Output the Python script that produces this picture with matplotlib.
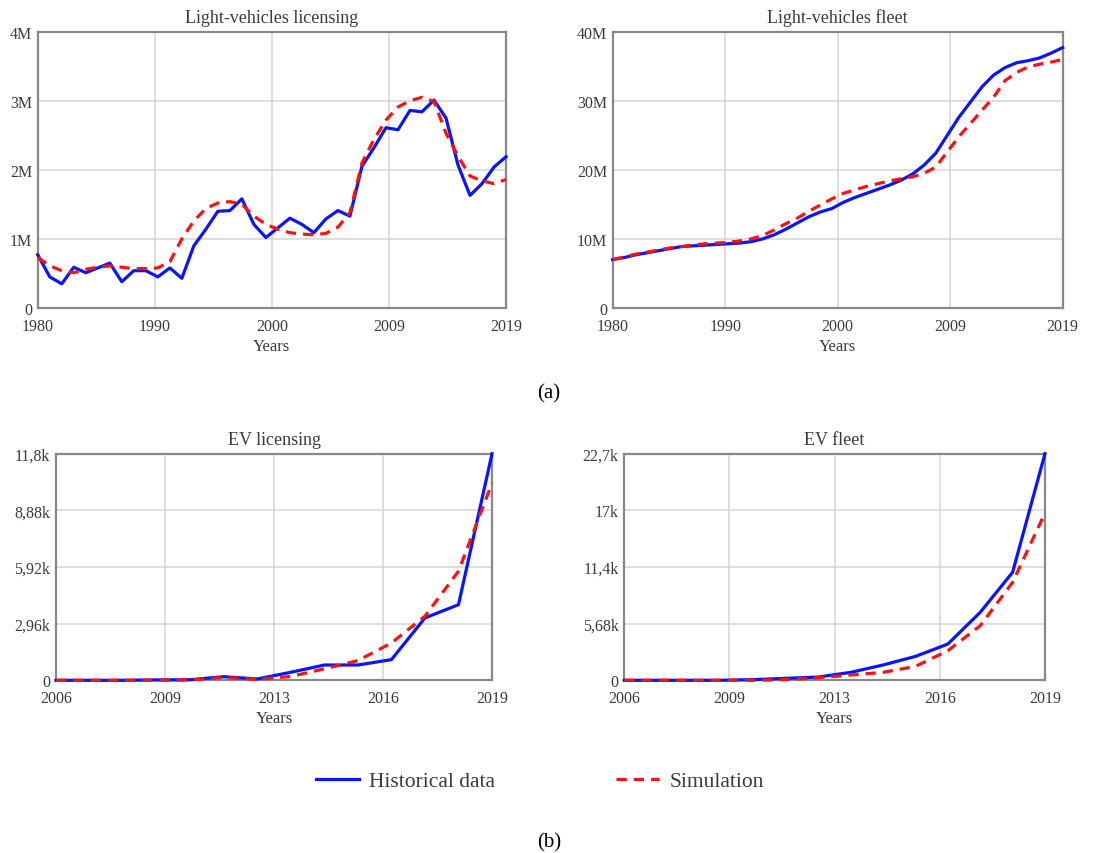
"""Light-vehicle and EV licensing / fleet: historical data vs simulation."""

import matplotlib
matplotlib.use("Agg")
import matplotlib.pyplot as plt
from matplotlib.lines import Line2D
import numpy as np

plt.rcParams["font.family"] = ["Liberation Serif", "DejaVu Serif"]

# --- data -----------------------------------------------------------------
years_lv = np.arange(1980, 2020)
years_ev = np.arange(2006, 2020)

# light-vehicle licensing, millions
lv_lic_hist = [0.77, 0.45, 0.35, 0.59, 0.51, 0.58, 0.65, 0.38, 0.54, 0.54,
               0.45, 0.58, 0.43, 0.90, 1.14, 1.40, 1.41, 1.58, 1.21, 1.02,
               1.16, 1.30, 1.21, 1.09, 1.29, 1.41, 1.33, 2.05, 2.32, 2.61,
               2.58, 2.86, 2.84, 3.01, 2.75, 2.07, 1.63, 1.80, 2.04, 2.19]
lv_lic_sim = [0.73, 0.61, 0.54, 0.51, 0.56, 0.59, 0.61, 0.59, 0.57, 0.57,
              0.58, 0.67, 1.00, 1.26, 1.44, 1.52, 1.54, 1.50, 1.33, 1.21,
              1.14, 1.09, 1.07, 1.06, 1.08, 1.17, 1.38, 2.10, 2.44, 2.72,
              2.91, 3.00, 3.05, 2.99, 2.53, 2.20, 1.91, 1.84, 1.80, 1.86]

# light-vehicle fleet, millions
lv_fleet_hist = [7.0, 7.3, 7.7, 8.0, 8.3, 8.6, 8.9, 9.0, 9.1, 9.2,
                 9.3, 9.4, 9.6, 10.0, 10.6, 11.4, 12.3, 13.2, 13.9, 14.4,
                 15.3, 16.0, 16.6, 17.2, 17.8, 18.5, 19.4, 20.7, 22.4, 25.0,
                 27.6, 29.8, 32.0, 33.7, 34.8, 35.5, 35.8, 36.2, 36.9, 37.7]
lv_fleet_sim = [7.0, 7.4, 7.8, 8.1, 8.4, 8.7, 8.9, 9.1, 9.3, 9.4,
                9.5, 9.7, 10.0, 10.5, 11.3, 12.2, 13.0, 14.0, 14.9, 15.8,
                16.6, 17.1, 17.6, 18.0, 18.4, 18.7, 19.0, 19.5, 20.4, 22.6,
                24.8, 26.7, 28.6, 30.5, 32.9, 34.1, 34.9, 35.3, 35.6, 36.0]

# EV licensing, thousands
ev_lic_hist = [0.0, 0.0, 0.0, 0.02, 0.03, 0.19, 0.07, 0.42, 0.80, 0.80,
               1.08, 3.26, 3.95, 11.84]
ev_lic_sim = [0.0, 0.0, 0.0, 0.0, 0.02, 0.15, 0.05, 0.20, 0.60, 1.03,
              1.95, 3.35, 5.70, 10.30]

# EV fleet, thousands
ev_fleet_hist = [0.0, 0.0, 0.0, 0.0, 0.07, 0.20, 0.33, 0.80, 1.54, 2.40,
                 3.64, 6.82, 10.83, 22.72]
ev_fleet_sim = [0.0, 0.0, 0.0, 0.0, 0.0, 0.07, 0.27, 0.53, 0.80, 1.40,
                2.97, 5.48, 9.82, 16.77]

lv_xlabels = ["1980", "1990", "2000", "2009", "2019"]
ev_xlabels = ["2006", "2009", "2013", "2016", "2019"]
lv_lic_ylabels = ["0", "1M", "2M", "3M", "4M"]
lv_fleet_ylabels = ["0", "10M", "20M", "30M", "40M"]
ev_lic_ylabels = ["0", "2,96k", "5,92k", "8,88k", "11,8k"]
ev_fleet_ylabels = ["0", "5,68k", "11,4k", "17k", "22,7k"]

BLUE = "#0a14ff"
RED = "#ff1010"
TEXT = "#3a3a3a"


def panel(fig, rect, title, x, hist, sim, ymax, xlabels, ylabels):
    ax = fig.add_axes(rect)
    ax.plot(x, hist, color=BLUE, lw=2.3, clip_on=False, zorder=4)
    ax.plot(x, sim, color=RED, lw=2.3, dashes=(3.2, 2.2), clip_on=False, zorder=5)
    ax.set_xlim(x[0], x[-1])
    ax.set_ylim(0, ymax)
    ax.set_xticks(np.linspace(x[0], x[-1], 5))
    ax.set_xticklabels(xlabels)
    ax.set_yticks(np.linspace(0, ymax, 5))
    ax.set_yticklabels(ylabels)
    ax.tick_params(length=0, labelsize=11.5, colors=TEXT)
    ax.tick_params(axis="x", pad=7)
    ax.tick_params(axis="y", pad=4)
    ax.grid(True, color="#d4d4d4", lw=1.1)
    ax.set_axisbelow(True)
    for s in ax.spines.values():
        s.set_color("#888888")
        s.set_linewidth(1.6)
    ax.set_title(title, fontsize=13, color=TEXT, pad=7)
    ax.set_xlabel("Years", fontsize=12, color=TEXT, labelpad=3)
    return ax


def main() -> None:
    fig = plt.figure(figsize=(11.2, 8.54), dpi=100)

    panel(fig, [0.0337, 0.6382, 0.4181, 0.3235], "Light-vehicles licensing",
          years_lv, lv_lic_hist, lv_lic_sim, 4.0, lv_xlabels, lv_lic_ylabels)
    panel(fig, [0.5470, 0.6382, 0.4018, 0.3235], "Light-vehicles fleet",
          years_lv, lv_fleet_hist, lv_fleet_sim, 40.0, lv_xlabels, lv_fleet_ylabels)
    panel(fig, [0.0500, 0.2022, 0.3893, 0.2654], "EV licensing",
          years_ev, ev_lic_hist, ev_lic_sim, 11.84, ev_xlabels, ev_lic_ylabels)
    panel(fig, [0.5574, 0.2022, 0.3756, 0.2654], "EV fleet",
          years_ev, ev_fleet_hist, ev_fleet_sim, 22.72, ev_xlabels, ev_fleet_ylabels)

    handles = [Line2D([], [], color=BLUE, lw=2.3),
               Line2D([], [], color=RED, lw=2.3, dashes=(3.2, 2.2))]
    fig.legend(handles, ["Historical data", "Simulation"], loc="center",
               bbox_to_anchor=(0.482, 0.0843), ncol=2, frameon=False,
               fontsize=15.5, handlelength=2.0, handletextpad=0.5,
               columnspacing=5.6, labelcolor=TEXT)

    fig.text(0.49, 1 - 394 / 854, "(a)", ha="center", va="center",
             fontsize=15, color="black")
    fig.text(0.49, 1 - 843 / 854, "(b)", ha="center", va="center",
             fontsize=15, color="black")

    fig.savefig("out.png", dpi=100)
    plt.close(fig)


if __name__ == "__main__":
    main()
